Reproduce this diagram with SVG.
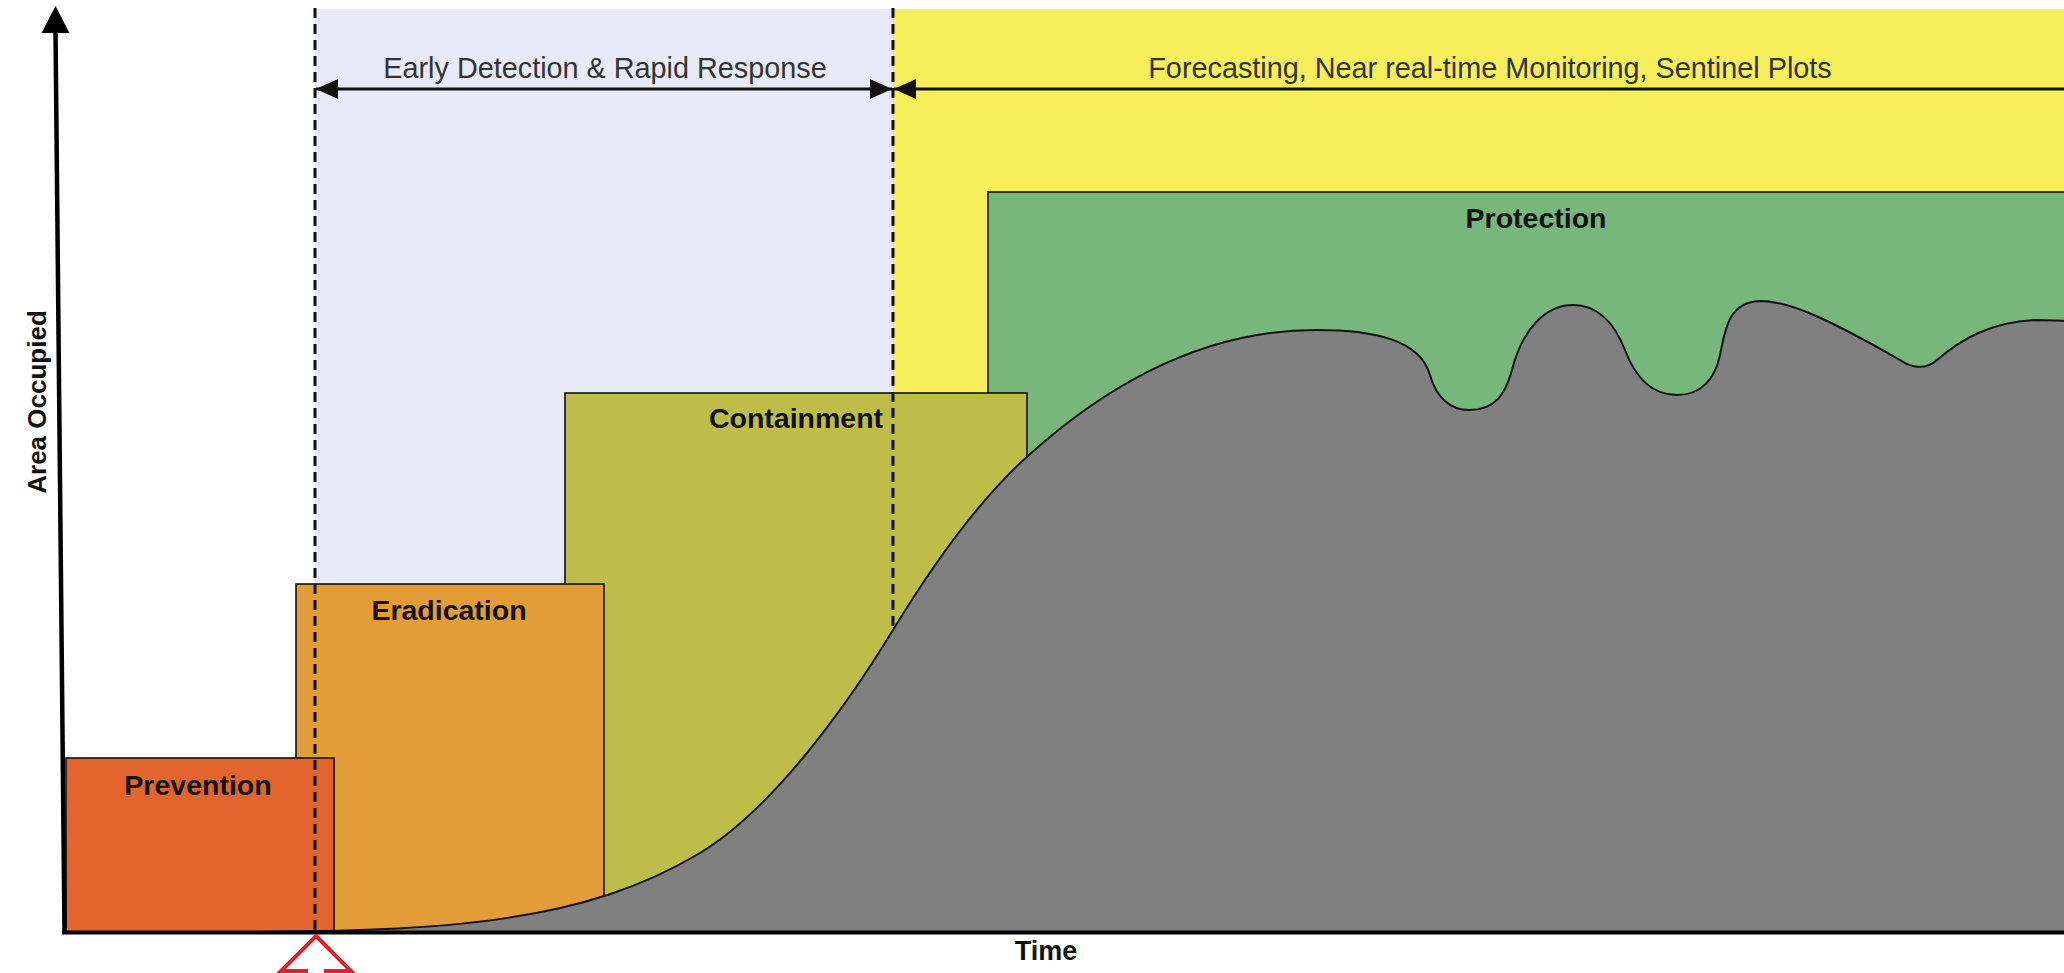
<svg xmlns="http://www.w3.org/2000/svg" width="2064" height="973" viewBox="0 0 2064 973">
  <style>
    .lbl { font-family: "Liberation Sans", Arial, sans-serif; font-size: 28.5px; font-weight: bold; fill: #111; text-anchor: middle; }
    .rng { font-family: "Liberation Sans", Arial, sans-serif; font-size: 28.8px; fill: #333; text-anchor: middle; }
    .box { stroke: #111; stroke-width: 1.6; }
    .dash { stroke: #111; stroke-width: 3; stroke-dasharray: 10 6; fill: none; }
    .rngline { stroke: #111; stroke-width: 3; fill: none; }
  </style>
  <defs>
    <marker id="ah" viewBox="0 0 22 20" refX="22" refY="10" markerWidth="22" markerHeight="20" markerUnits="userSpaceOnUse" orient="auto-start-reverse">
      <path d="M0,0 L22,10 L0,20 Z" fill="#111"/>
    </marker>
  </defs>
  <rect width="2064" height="973" fill="#ffffff"/>

  <g id="bands">
    <rect x="315" y="9" width="578" height="923" fill="#E8EAF8"/>
    <rect x="893" y="9" width="1200" height="923" fill="#F6EE5A"/>
  </g>

  <g id="protection">
    <rect class="box" x="988" y="192" width="1110" height="740" fill="#77B77C"/>
    <text class="lbl" x="1536" y="228">Protection</text>
  </g>
  <g id="containment">
    <rect class="box" x="565" y="393" width="462" height="539" fill="#BFBD4A"/>
    <text class="lbl" x="796" y="428">Containment</text>
  </g>
  <g id="eradication">
    <rect class="box" x="296" y="584" width="308" height="348" fill="#E39D38"/>
    <text class="lbl" x="449" y="620">Eradication</text>
  </g>
  <g id="prevention">
    <rect class="box" x="66" y="758" width="268" height="174" fill="#E3642D"/>
    <text class="lbl" x="198" y="795">Prevention</text>
  </g>

  <g id="connectors">
    <line class="dash" x1="315" y1="8" x2="315" y2="932"/>
    <line class="dash" x1="893" y1="8" x2="893" y2="640"/>
    <line class="rngline" x1="316" y1="89" x2="892" y2="89" marker-start="url(#ah)" marker-end="url(#ah)"/>
    <line class="rngline" x1="894" y1="89" x2="2090" y2="89" marker-start="url(#ah)"/>
    <text class="rng" x="605" y="78">Early Detection &amp; Rapid Response</text>
    <text class="rng" x="1490" y="78">Forecasting, Near real-time Monitoring, Sentinel Plots</text>
  </g>

  <g id="infestation">
    <path d="M230,932 C450,932 585,922 700,853 C770,811 843,712 893,630 C938,556 984,495 1029,455 C1109,383 1206,330 1316,330 C1375,330 1420,340 1430,375 C1436,397 1450,410 1469,410 C1495,410 1505,395 1512,370 C1522,330 1545,305 1573,305 C1600,305 1615,325 1625,350 C1637,382 1655,395 1677,395 C1700,395 1715,380 1720,355 C1725,330 1728,302 1760,301 C1790,301 1830,320 1900,360 C1910,367 1925,371 1937,360 C1960,340 1990,322 2035,320 L2070,321 L2070,932 Z" fill="#808080" stroke="#111" stroke-width="2"/>
  </g>

  <g id="axes">
    <line x1="55.5" y1="30" x2="64.5" y2="932" stroke="#000" stroke-width="4.5"/>
    <polygon points="55.5,6 41.5,33 69.5,33" fill="#000"/>
    <line x1="62" y1="932.5" x2="2064" y2="932.5" stroke="#000" stroke-width="4"/>
    <text class="lbl" x="1046" y="960" style="font-size:27px">Time</text>
    <text class="lbl" transform="translate(46,402) rotate(-90)" x="0" y="0" style="font-size:26px">Area Occupied</text>
  </g>

  <g id="introduction-marker">
    <path d="M316,936 L351,971 L326,971 L326,995 L306,995 L306,971 L281,971 Z" fill="#ffffff" stroke="#D9232E" stroke-width="4" stroke-linejoin="miter"/>
  </g>
</svg>
